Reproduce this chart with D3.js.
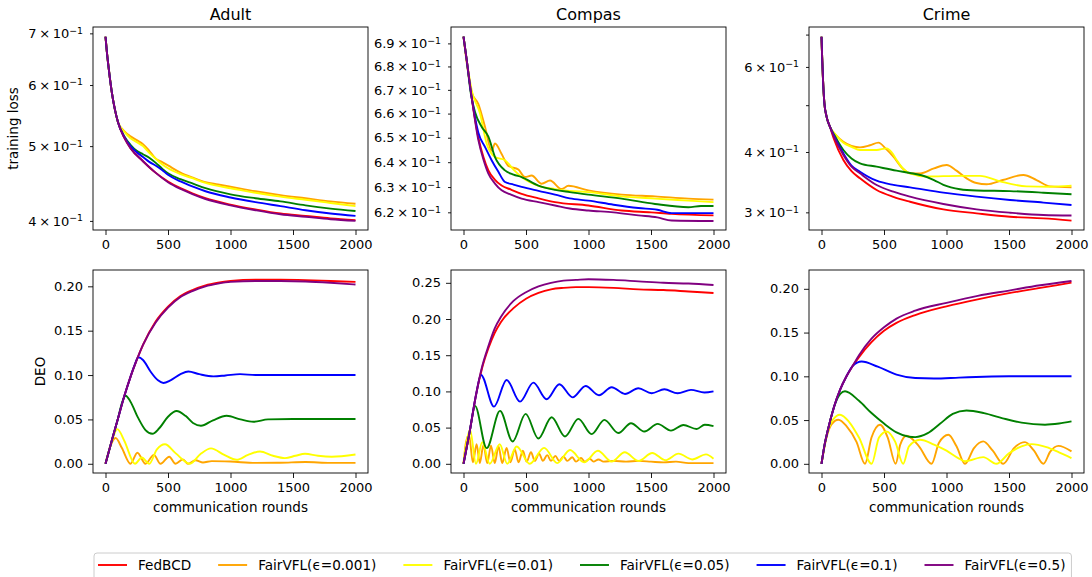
<!DOCTYPE html>
<html>
<head>
<meta charset="utf-8">
<script src="https://cdn.jsdelivr.net/npm/d3@7"></script>
<style>
  body { margin: 0; background: #fff; }
  text { font-family: "DejaVu Sans", sans-serif; fill: #000; }
</style>
</head>
<body>
<div id="chart"></div>
<script>
// legend order = draw order
const methods = ["FedBCD", "FairVFL(ϵ=0.001)", "FairVFL(ϵ=0.01)", "FairVFL(ϵ=0.05)", "FairVFL(ϵ=0.1)", "FairVFL(ϵ=0.5)"];
const colors = ["red", "orange", "yellow", "green", "blue", "purple"];
const datasets = ["Adult", "Compas", "Crime"];
const roundTicks = [0, 500, 1000, 1500, 2000];

// training loss, [round, loss]
const adultLoss = [
  [[0,0.693],[10,0.665],[25,0.632],[50,0.588],[75,0.558],[100,0.537],[150,0.513],[200,0.497],[300,0.478],[400,0.462],[500,0.45],[600,0.441],[700,0.434],[800,0.428],[1000,0.42],[1200,0.414],[1400,0.409],[1600,0.406],[1800,0.403],[2000,0.401]],
  [[0,0.693],[10,0.665],[25,0.632],[50,0.588],[75,0.558],[100,0.537],[150,0.523],[200,0.515],[250,0.509],[300,0.503],[350,0.493],[400,0.482],[450,0.477],[500,0.472],[600,0.462],[700,0.455],[800,0.449],[900,0.446],[1000,0.443],[1200,0.437],[1400,0.432],[1600,0.428],[1800,0.424],[2000,0.421]],
  [[0,0.693],[10,0.665],[25,0.632],[50,0.588],[75,0.558],[100,0.537],[150,0.522],[200,0.512],[250,0.506],[300,0.5],[350,0.49],[400,0.482],[450,0.474],[500,0.468],[600,0.46],[700,0.454],[800,0.448],[900,0.444],[1000,0.441],[1200,0.435],[1400,0.43],[1600,0.426],[1800,0.422],[2000,0.418]],
  [[0,0.693],[10,0.665],[25,0.632],[50,0.588],[75,0.558],[100,0.537],[150,0.515],[200,0.502],[250,0.493],[300,0.488],[350,0.483],[400,0.476],[450,0.468],[500,0.461],[600,0.453],[700,0.447],[800,0.441],[1000,0.433],[1200,0.428],[1400,0.424],[1600,0.419],[1800,0.415],[2000,0.412]],
  [[0,0.693],[10,0.665],[25,0.632],[50,0.588],[75,0.558],[100,0.537],[150,0.514],[200,0.5],[250,0.491],[300,0.484],[350,0.477],[400,0.472],[450,0.466],[500,0.459],[600,0.45],[700,0.443],[800,0.437],[1000,0.429],[1200,0.423],[1400,0.418],[1600,0.413],[1800,0.409],[2000,0.406]],
  [[0,0.693],[10,0.665],[25,0.632],[50,0.588],[75,0.558],[100,0.537],[150,0.513],[200,0.497],[300,0.478],[400,0.462],[500,0.449],[600,0.44],[700,0.433],[800,0.427],[1000,0.419],[1200,0.413],[1400,0.408],[1600,0.405],[1800,0.402],[2000,0.4]]
];
const compasLoss = [
  [[0,0.693],[25,0.683],[65,0.667],[119,0.65],[160,0.642],[199,0.6367],[250,0.633],[305,0.6306],[380,0.629],[465,0.6273],[600,0.6255],[732,0.624],[999,0.6227],[1265,0.6207],[1500,0.62],[1665,0.6194],[2000,0.6188]],
  [[0,0.693],[30,0.68],[65,0.669],[119,0.664],[172,0.6545],[225,0.6446],[252,0.6476],[305,0.6433],[359,0.6385],[439,0.637],[492,0.634],[545,0.6346],[625,0.6313],[692,0.6326],[785,0.6292],[839,0.6305],[999,0.6287],[1265,0.627],[1532,0.6263],[1799,0.6254],[2000,0.625]],
  [[0,0.693],[25,0.683],[65,0.6699],[132,0.6601],[185,0.6476],[252,0.6421],[332,0.6408],[400,0.637],[465,0.634],[600,0.6305],[732,0.6292],[850,0.6285],[999,0.628],[1265,0.6263],[1532,0.6254],[1799,0.6246],[2000,0.624]],
  [[0,0.693],[25,0.683],[60,0.668],[92,0.6607],[145,0.6545],[199,0.6504],[252,0.6421],[332,0.6367],[400,0.635],[465,0.634],[599,0.6306],[732,0.6289],[850,0.628],[999,0.627],[1265,0.6254],[1532,0.6233],[1799,0.622],[1900,0.6225],[2000,0.6225]],
  [[0,0.693],[25,0.683],[65,0.667],[119,0.652],[172,0.6462],[225,0.6408],[279,0.6361],[332,0.632],[400,0.631],[465,0.6301],[600,0.6285],[732,0.627],[850,0.6255],[999,0.6246],[1200,0.623],[1399,0.6217],[1550,0.621],[1665,0.6197],[2000,0.6197]],
  [[0,0.693],[25,0.683],[65,0.667],[119,0.649],[160,0.641],[199,0.6354],[250,0.6315],[305,0.6287],[380,0.627],[465,0.6254],[600,0.624],[732,0.6227],[850,0.6215],[999,0.6207],[1200,0.62],[1399,0.6188],[1550,0.618],[1665,0.6168],[2000,0.6166]]
];
const crimeLoss = [
  [[0,0.693],[5,0.63],[12,0.565],[23,0.505],[40,0.474],[68,0.451],[100,0.425],[175,0.385],[240,0.365],[308,0.3528],[441,0.3337],[575,0.323],[708,0.3156],[975,0.3043],[1241,0.2986],[1508,0.2938],[1775,0.2915],[2000,0.2884]],
  [[0,0.693],[5,0.63],[12,0.565],[23,0.505],[40,0.474],[68,0.451],[121,0.432],[175,0.42],[240,0.412],[308,0.409],[388,0.413],[455,0.4182],[520,0.405],[575,0.3912],[640,0.372],[708,0.3614],[788,0.361],[900,0.37],[1001,0.3759],[1080,0.366],[1161,0.3528],[1240,0.345],[1321,0.343],[1450,0.35],[1615,0.3585],[1720,0.35],[1828,0.3395],[2000,0.338]],
  [[0,0.693],[5,0.63],[12,0.565],[23,0.505],[40,0.474],[68,0.451],[121,0.432],[175,0.418],[240,0.41],[308,0.4038],[441,0.4038],[521,0.407],[560,0.4],[601,0.385],[650,0.37],[708,0.3614],[841,0.356],[1108,0.357],[1268,0.357],[1428,0.3477],[1641,0.3396],[1828,0.339],[2000,0.3407]],
  [[0,0.693],[5,0.63],[12,0.565],[23,0.505],[40,0.474],[68,0.451],[100,0.435],[175,0.4038],[240,0.388],[308,0.379],[441,0.373],[600,0.366],[708,0.362],[800,0.358],[900,0.35],[975,0.342],[1108,0.335],[1241,0.333],[1508,0.332],[1775,0.3295],[2000,0.327]],
  [[0,0.693],[5,0.63],[12,0.565],[23,0.505],[40,0.474],[68,0.451],[100,0.432],[175,0.3975],[240,0.375],[308,0.3642],[441,0.3488],[575,0.342],[708,0.338],[975,0.3295],[1241,0.3233],[1508,0.3182],[1775,0.3143],[2000,0.3108]],
  [[0,0.693],[5,0.63],[12,0.565],[23,0.505],[40,0.474],[68,0.451],[100,0.43],[175,0.3943],[240,0.373],[308,0.3614],[441,0.3418],[575,0.331],[708,0.3233],[975,0.3122],[1241,0.3043],[1508,0.2995],[1775,0.2962],[2000,0.2955]]
];

// DEO, [round, value]
const adultDeo = [
  [[0,0],[50,0.026],[100,0.051],[150,0.076],[200,0.098],[250,0.117],[300,0.134],[400,0.16],[500,0.177],[600,0.189],[700,0.196],[800,0.201],[900,0.204],[1000,0.206],[1200,0.2075],[1400,0.2075],[1600,0.207],[1800,0.206],[2000,0.205]],
  [[0,0],[40,0.02],[81,0.029],[130,0.018],[200,0],[255,0.0125],[320,0],[387,0.01],[440,0],[510,0.008],[560,0],[620,0.005],[660,0],[720,0.004],[780,0.0015],[850,0.003],[1000,0.0025],[1200,0.001],[1400,0.0012],[1600,0.002],[1800,0.001],[2000,0.001]],
  [[0,0],[50,0.025],[95,0.039],[150,0.026],[236,0],[290,0.007],[350,0],[410,0.016],[476,0.022],[560,0.012],[676,0],[760,0.011],[844,0.0173],[950,0.01],[1049,0.0045],[1140,0.01],[1236,0.0139],[1340,0.009],[1436,0.0064],[1520,0.009],[1596,0.0113],[1700,0.009],[1810,0.0079],[2000,0.0104]],
  [[0,0],[50,0.026],[100,0.051],[130,0.068],[161,0.0767],[200,0.07],[260,0.052],[320,0.038],[375,0.0338],[430,0.04],[500,0.053],[569,0.0594],[640,0.054],[700,0.046],[764,0.0429],[860,0.049],[969,0.0541],[1080,0.05],[1183,0.0474],[1300,0.05],[1500,0.0505],[2000,0.0505]],
  [[0,0],[50,0.026],[100,0.051],[150,0.076],[200,0.098],[230,0.11],[263,0.12],[300,0.117],[360,0.104],[420,0.094],[463,0.091],[520,0.094],[600,0.101],[663,0.104],[750,0.101],[863,0.0985],[960,0.0995],[1076,0.101],[1200,0.1],[1500,0.1],[2000,0.1]],
  [[0,0],[50,0.026],[100,0.051],[150,0.076],[200,0.098],[250,0.117],[300,0.134],[400,0.159],[500,0.176],[600,0.188],[700,0.195],[800,0.2],[900,0.203],[1000,0.205],[1200,0.206],[1400,0.206],[1600,0.2055],[1800,0.204],[2000,0.202]]
];
const compasDeo = [
  [[0,0],[50,0.045],[100,0.095],[150,0.133],[200,0.16],[250,0.181],[300,0.196],[400,0.215],[500,0.228],[600,0.236],[700,0.241],[800,0.243],[900,0.244],[1000,0.244],[1200,0.243],[1400,0.241],[1600,0.24],[1800,0.238],[2000,0.236]],
  [[0,0],[20,0.03],[44,0.04],[75,0.002],[105,0.027],[130,0.001],[160,0.026],[190,0.001],[220,0.025],[250,0.001],[280,0.024],[310,0.001],[345,0.022],[375,0.002],[410,0.02],[440,0.002],[475,0.018],[505,0.003],[540,0.016],[570,0.004],[605,0.014],[635,0.004],[670,0.012],[700,0.004],[735,0.011],[765,0.004],[800,0.01],[830,0.004],[870,0.009],[900,0.003],[940,0.008],[970,0.003],[1010,0.007],[1040,0.003],[1080,0.006],[1120,0.003],[1200,0.004],[1300,0.003],[1400,0.004],[1500,0.003],[1600,0.002],[1700,0.003],[1800,0.001],[1900,0.001],[2000,0.001]],
  [[0,0],[25,0.03],[52,0.047],[100,0],[150,0.03],[210,0],[290,0.027],[350,0],[425,0.024],[530,0],[645,0.022],[750,0.001],[852,0.019],[965,0.002],[1075,0.018],[1185,0.003],[1290,0.016],[1400,0.004],[1510,0.015],[1615,0.005],[1720,0.014],[1830,0.006],[1940,0.013],[2000,0.007]],
  [[0,0],[50,0.045],[92,0.08],[185,0.0216],[292,0.0731],[393,0.0308],[497,0.0689],[599,0.0349],[705,0.0643],[812,0.0377],[919,0.0621],[1025,0.041],[1127,0.0607],[1239,0.0425],[1340,0.0561],[1447,0.0446],[1553,0.0551],[1660,0.0459],[1759,0.0537],[1865,0.048],[1930,0.054],[2000,0.052]],
  [[0,0],[50,0.045],[100,0.095],[140,0.1227],[244,0.079],[345,0.1158],[452,0.0859],[559,0.1121],[665,0.0892],[767,0.1099],[873,0.0918],[977,0.1074],[1084,0.0946],[1185,0.1057],[1292,0.0965],[1399,0.1043],[1505,0.0974],[1607,0.103],[1713,0.0974],[1820,0.1021],[1927,0.0985],[2000,0.1001]],
  [[0,0],[50,0.045],[100,0.095],[150,0.135],[200,0.163],[250,0.187],[300,0.203],[400,0.225],[500,0.237],[600,0.245],[700,0.25],[800,0.253],[900,0.254],[1000,0.255],[1200,0.254],[1400,0.252],[1600,0.25],[1800,0.249],[2000,0.247]]
];
const crimeDeo = [
  [[0,0],[25,0.022],[50,0.038],[100,0.065],[150,0.085],[200,0.1],[250,0.112],[300,0.122],[400,0.139],[500,0.152],[600,0.161],[750,0.17],[1000,0.18],[1250,0.188],[1500,0.195],[1750,0.201],[2000,0.207]],
  [[0,0],[40,0.03],[80,0.045],[135,0.0504],[200,0.043],[280,0.025],[348,0],[400,0.03],[468,0.0447],[530,0.03],[593,0],[630,0.022],[681,0.032],[780,0.02],[881,0],[940,0.024],[1015,0.0332],[1080,0.02],[1148,0],[1220,0.018],[1294,0.0256],[1370,0.015],[1455,0],[1540,0.018],[1628,0.0248],[1700,0.015],[1775,0],[1830,0.014],[1895,0.0205],[2000,0.0142]],
  [[0,0],[40,0.032],[90,0.05],[148,0.0561],[220,0.048],[300,0.03],[401,0],[460,0.03],[521,0.037],[590,0.025],[653,0],[700,0.02],[788,0.0275],[900,0.022],[1000,0.015],[1100,0.006],[1150,0.003],[1294,0.0076],[1399,0],[1500,0.012],[1600,0.02],[1681,0.0225],[1800,0.019],[1900,0.013],[2000,0.0065]],
  [[0,0],[25,0.022],[50,0.038],[100,0.065],[150,0.08],[188,0.083],[300,0.072],[400,0.058],[500,0.046],[600,0.036],[700,0.031],[750,0.0305],[850,0.035],[950,0.046],[1050,0.057],[1160,0.061],[1300,0.058],[1450,0.052],[1600,0.047],[1788,0.0447],[1900,0.046],[2000,0.0485]],
  [[0,0],[25,0.022],[50,0.038],[100,0.065],[150,0.085],[200,0.1],[250,0.112],[321,0.117],[450,0.111],[600,0.102],[750,0.098],[900,0.0975],[1100,0.0985],[1300,0.0995],[1500,0.1],[2000,0.1]],
  [[0,0],[25,0.022],[50,0.038],[100,0.065],[150,0.085],[200,0.1],[250,0.112],[300,0.124],[400,0.143],[500,0.156],[600,0.166],[750,0.175],[1000,0.184],[1250,0.192],[1500,0.198],[1750,0.204],[2000,0.209]]
];

// y axis ranges and ticks
const lossDomains = [[0.3893, 0.7134], [0.6131, 0.6972], [0.2758, 0.7258]];
const lossTicks = [[0.4, 0.5, 0.6, 0.7], [0.62, 0.63, 0.64, 0.65, 0.66, 0.67, 0.68, 0.69], [0.3, 0.4, 0.5, 0.6, 0.7]];
const lossTickLabels = [[0.4, 0.5, 0.6, 0.7], [0.62, 0.63, 0.64, 0.65, 0.66, 0.67, 0.68, 0.69], [0.3, 0.4, 0.6]];
const deoDomains = [[-0.0104, 0.2184], [-0.0127, 0.2677], [-0.0105, 0.2215]];
const deoTicks = [[0, 0.05, 0.1, 0.15, 0.2], [0, 0.05, 0.1, 0.15, 0.2, 0.25], [0, 0.05, 0.1, 0.15, 0.2]];

const width = 1092, height = 577;
const colLeft = [93, 451, 809], panelW = 275;
const rowTop = [27, 270], panelH = 203;

const svg = d3.select("#chart").append("svg")
  .attr("width", width)
  .attr("height", height);

const lossData = [adultLoss, compasLoss, crimeLoss];
const deoData = [adultDeo, compasDeo, crimeDeo];

function drawPanel(col, row) {
  const left = colLeft[col], top = rowTop[row];
  const x = d3.scaleLinear().domain([-100, 2100]).range([left, left + panelW]);
  const y = row === 0
    ? d3.scaleLog().domain(lossDomains[col]).range([top + panelH, top])
    : d3.scaleLinear().domain(deoDomains[col]).range([top + panelH, top]);
  const series = row === 0 ? lossData[col] : deoData[col];

  const line = d3.line()
    .x(d => x(d[0]))
    .y(d => y(d[1]))
    .curve(d3.curveMonotoneX);

  const g = svg.append("g");
  series.forEach((s, i) => {
    g.append("path")
      .attr("d", line(s))
      .attr("fill", "none")
      .attr("stroke", colors[i])
      .attr("stroke-width", 1.9)
      .attr("stroke-linejoin", "round");
  });

  // x axis
  const xAxis = g.append("g")
    .attr("transform", `translate(0,${top + panelH})`)
    .call(d3.axisBottom(x).tickValues(roundTicks).tickSize(5).tickPadding(4.5).tickFormat(d3.format("d")));
  xAxis.select(".domain").remove();
  xAxis.selectAll("text").attr("font-size", 13).attr("font-family", "DejaVu Sans").attr("fill", "#000");
  xAxis.selectAll("line").attr("stroke", "#000").attr("stroke-width", 0.9);

  // y axis
  let yAxis;
  if (row === 0) {
    const labelled = lossTickLabels[col];
    yAxis = g.append("g")
      .attr("transform", `translate(${left},0)`)
      .call(d3.axisLeft(y).tickValues(lossTicks[col]).tickSize(3).tickPadding(7).tickFormat(() => ""));
    yAxis.selectAll(".tick text").each(function (d) {
      if (!labelled.includes(d)) return;
      const t = d3.select(this);
      const mant = d3.format("~g")(Math.round(d * 100) / 10);
      t.append("tspan").text(mant + "\u2009×\u200910");
      t.append("tspan").attr("dy", "-0.45em").attr("font-size", "0.72em").text("−1");
    });
  } else {
    yAxis = g.append("g")
      .attr("transform", `translate(${left},0)`)
      .call(d3.axisLeft(y).tickValues(deoTicks[col]).tickSize(5).tickPadding(5).tickFormat(d3.format(".2f")));
  }
  yAxis.select(".domain").remove();
  yAxis.selectAll("text").attr("font-size", 13).attr("font-family", "DejaVu Sans").attr("fill", "#000");
  yAxis.selectAll("line").attr("stroke", "#000").attr("stroke-width", 0.9);

  // frame
  g.append("rect")
    .attr("x", left)
    .attr("y", top)
    .attr("width", panelW)
    .attr("height", panelH)
    .attr("fill", "none")
    .attr("stroke", "#000")
    .attr("stroke-width", 0.9);

  if (row === 0) {
    g.append("text")
      .attr("x", left + panelW / 2)
      .attr("y", 20)
      .attr("text-anchor", "middle")
      .attr("font-size", 16)
      .text(datasets[col]);
  } else {
    g.append("text")
      .attr("x", left + panelW / 2)
      .attr("y", 511.5)
      .attr("text-anchor", "middle")
      .attr("font-size", 13.5)
      .text("communication rounds");
  }
}

for (let row = 0; row < 2; row++) {
  for (let col = 0; col < 3; col++) drawPanel(col, row);
}

// y labels
svg.append("text")
  .attr("transform", `translate(18,${rowTop[0] + panelH / 2}) rotate(-90)`)
  .attr("text-anchor", "middle")
  .attr("font-size", 13.5)
  .text("training loss");
svg.append("text")
  .attr("transform", `translate(45,${rowTop[1] + panelH / 2}) rotate(-90)`)
  .attr("text-anchor", "middle")
  .attr("font-size", 13.5)
  .text("DEO");

// legend
const legend = svg.append("g");
const legendBox = legend.append("rect")
  .attr("fill", "#fff")
  .attr("stroke", "#ccc")
  .attr("stroke-width", 1)
  .attr("rx", 3);
let lx = 98;
const ly = 565;
methods.forEach((m, i) => {
  legend.append("line")
    .attr("x1", lx).attr("x2", lx + 29)
    .attr("y1", ly).attr("y2", ly)
    .attr("stroke", colors[i])
    .attr("stroke-width", 1.9);
  const t = legend.append("text")
    .attr("x", lx + 40)
    .attr("y", ly + 4.8)
    .attr("font-size", 13.6)
    .text(m);
  lx = lx + 40 + t.node().getComputedTextLength() + 27;
});
legendBox
  .attr("x", 94)
  .attr("y", 553)
  .attr("width", lx - 27 + 6 - 94)
  .attr("height", 34);
</script>
</body>
</html>
